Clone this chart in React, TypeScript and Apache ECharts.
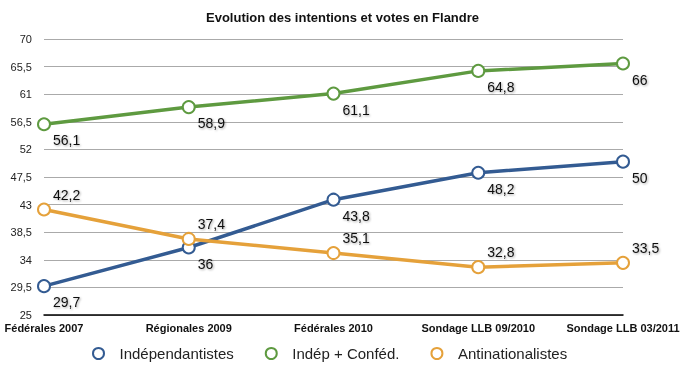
import React, { useEffect, useRef } from "react";
import * as echarts from "echarts";

const categories = ["Fédérales 2007", "Régionales 2009", "Fédérales 2010", "Sondage LLB 09/2010", "Sondage LLB 03/2011"];
const independantistes = [29.7, 36, 43.8, 48.2, 50];
const indepConfed = [56.1, 58.9, 61.1, 64.8, 66];
const antinationalistes = [42.2, 37.4, 35.1, 32.8, 33.5];
const seriesNames = ["Indépendantistes", "Indép + Conféd.", "Antinationalistes"];
const colors = ["#335b92", "#5e9a40", "#e5a13a"];

const fmt = (v: number) => String(v).replace(".", ",");
const FONT = "Liberation Sans, Arial, Helvetica, sans-serif";

export default function App() {
  const ref = useRef<HTMLDivElement>(null);
  useEffect(() => {
    const chart = echarts.init(ref.current!, null, { renderer: "svg" });
    const labelStyle = (dy: number) => ({
      show: true,
      position: "right" as const,
      distance: 2,
      offset: [0, dy],
      formatter: (p: any) => fmt(p.value),
      fontSize: 14,
      fontFamily: FONT,
      color: "#111",
      textShadowColor: "rgba(0,0,0,0.35)",
      textShadowBlur: 2,
      textShadowOffsetX: 1,
      textShadowOffsetY: 1,
    });
    const mk = (name: string, data: number[], color: string, dy: number) => ({
      name,
      type: "line",
      data,
      symbol: "emptyCircle",
      symbolSize: 12,
      lineStyle: { width: 3.5, color },
      itemStyle: { color, borderColor: color, borderWidth: 3.5 },
      label: labelStyle(dy),
      emphasis: { disabled: true },
    });
    chart.setOption({
      animation: false,
      title: {
        text: "Evolution des intentions et votes en Flandre",
        left: 201,
        top: 6,
        textStyle: { fontSize: 13, fontWeight: "bold", color: "#111", fontFamily: FONT },
      },
      legend: {
        bottom: 6,
        left: 87,
        itemGap: 31,
        itemWidth: 32,
        itemHeight: 11,
        icon: "emptyCircle",
        itemStyle: { borderWidth: 3 },
        textStyle: { fontSize: 15, color: "#222", fontFamily: FONT },
        data: seriesNames,
      },
      grid: { left: 44, right: 69, top: 39, bottom: 57 },
      xAxis: {
        type: "category",
        data: categories,
        boundaryGap: false,
        axisLine: { lineStyle: { color: "#000", width: 1.5 } },
        axisTick: { show: false },
        axisLabel: { fontSize: 11, fontWeight: "bold", color: "#111", fontFamily: FONT, margin: 7, interval: 0 },
        splitLine: { show: false },
      },
      yAxis: {
        type: "value",
        min: 25,
        max: 70,
        interval: 4.5,
        axisLine: { show: false },
        axisTick: { show: false },
        axisLabel: { fontSize: 11, color: "#222", fontFamily: FONT, margin: 12, formatter: (v: number) => fmt(v) },
        splitLine: { lineStyle: { color: "#aaa", width: 1 } },
      },
      series: [
        mk(seriesNames[0], independantistes, colors[0], 16),
        mk(seriesNames[1], indepConfed, colors[1], 16),
        mk(seriesNames[2], antinationalistes, colors[2], -15),
      ],
    });
    return () => chart.dispose();
  }, []);
  return <div ref={ref} style={{ position: "fixed", left: 0, top: 0, width: 692, height: 372 }} />;
}
